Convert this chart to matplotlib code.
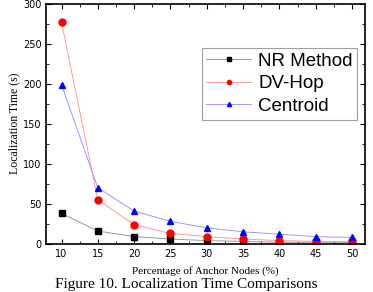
import matplotlib.pyplot as plt
from matplotlib.ticker import MultipleLocator

anchor_pct = [10, 15, 20, 25, 30, 35, 40, 45, 50]
nr_method = [38, 16, 9, 6, 4, 3, 2, 2, 2]
dv_hop = [277, 55, 24, 13, 9, 6, 4, 3, 3]
centroid = [199, 70, 41, 28, 20, 15, 12, 9, 8]

fig = plt.figure(figsize=(3.73, 2.92), dpi=100)
ax = fig.add_axes([0.124, 0.165, 0.855, 0.822])

ax.plot(anchor_pct, nr_method, color='#999999', lw=0.7, marker='s', ms=4.5,
        mfc='black', mec='black', label='NR Method')
ax.plot(anchor_pct, dv_hop, color='#ff9999', lw=0.7, marker='o', ms=5,
        mfc='red', mec='red', label='DV-Hop')
ax.plot(anchor_pct, centroid, color='#9999ff', lw=0.7, marker='^', ms=5,
        mfc='blue', mec='blue', label='Centroid')

ax.set_xlim(7.9, 51.8)
ax.set_ylim(0, 300)
ax.set_xticks(anchor_pct)
ax.xaxis.set_minor_locator(MultipleLocator(2.5))
ax.yaxis.set_major_locator(MultipleLocator(50))
ax.yaxis.set_minor_locator(MultipleLocator(25))
ax.tick_params(which='both', direction='in', top=True, right=True, labelsize=7)
ax.tick_params(which='major', length=3.5, width=0.8)
ax.tick_params(which='minor', length=2, width=0.6)
for s in ax.spines.values():
    s.set_linewidth(1.2)

ax.set_ylabel('Localization Time (s)', family='Liberation Serif', fontsize=8.5, labelpad=2)
ax.set_xlabel('Percentage of Anchor Nodes (%)', family='Liberation Serif', fontsize=8, labelpad=5)

leg = ax.legend(loc='upper right', bbox_to_anchor=(0.975, 0.817),
                prop={'family': 'Liberation Sans', 'size': 13.5},
                fancybox=False, edgecolor='#888888', handlelength=2.4,
                handletextpad=0.35, borderpad=0.25, labelspacing=0.3,
                markerscale=0.6, borderaxespad=0)
leg.get_frame().set_linewidth(0.8)

fig.text(0.5, 0.012, 'Figure 10. Localization Time Comparisons', ha='center',
         va='baseline', family='Liberation Serif', fontsize=11)

fig.savefig('out.png', dpi=100)
